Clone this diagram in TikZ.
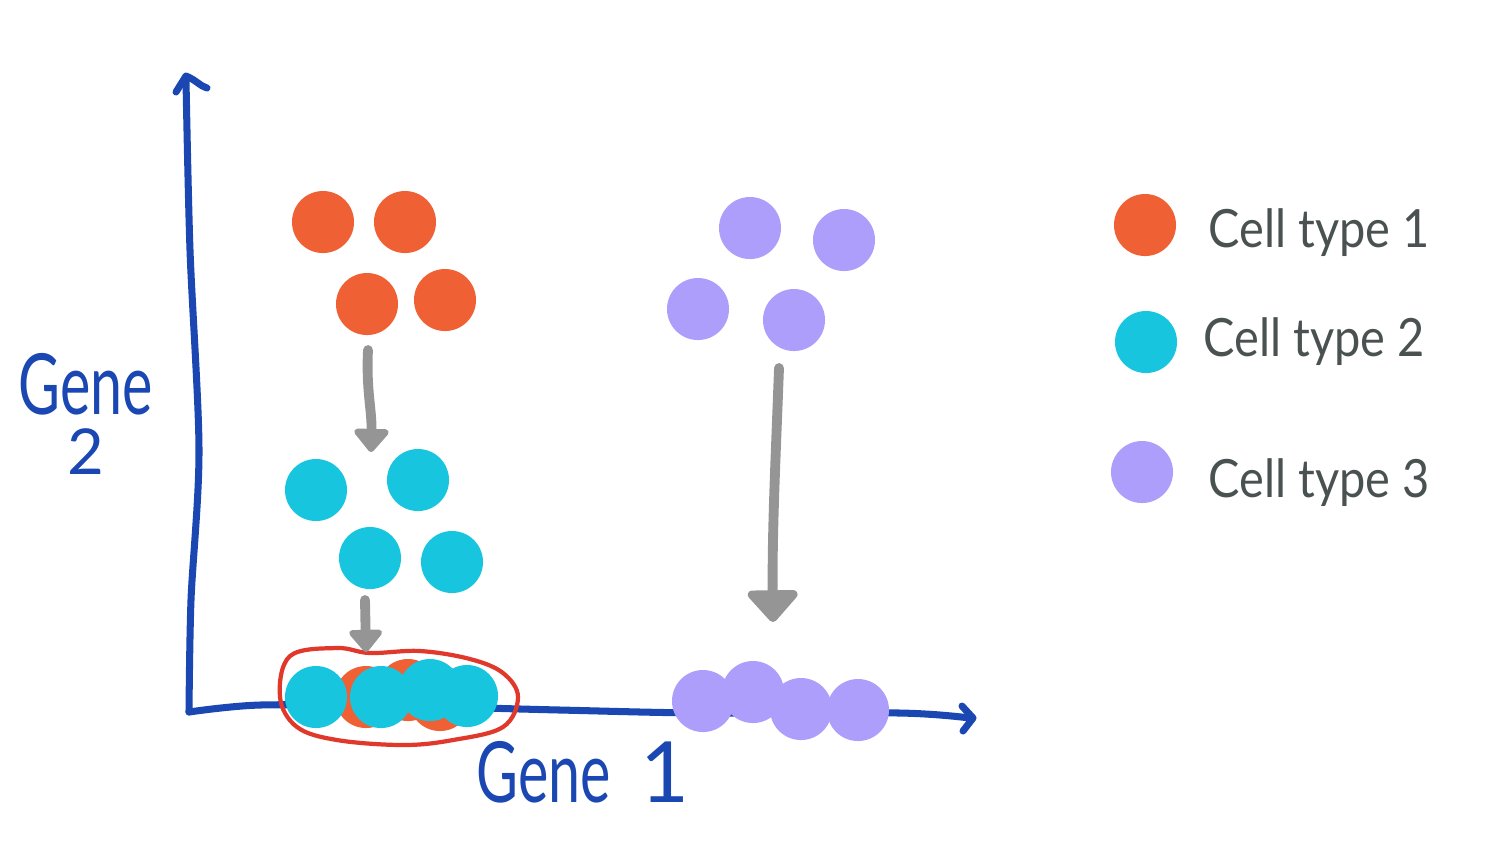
\documentclass[tikz,border=0pt]{standalone}
\usepackage{fontspec}
\usepackage{graphicx}
\setmainfont{Lato}
\usetikzlibrary{arrows.meta}
\definecolor{corange}{HTML}{F06035}
\definecolor{ccyan}{HTML}{17C6DE}
\definecolor{cpurple}{HTML}{AE9EFB}
\definecolor{cblue}{HTML}{1A47B2}
\definecolor{cred}{HTML}{E0392C}
\definecolor{cgray}{HTML}{959595}
\definecolor{ctext}{HTML}{4A5151}
\tikzset{
  cell/.style={circle, inner sep=0pt, minimum size=0.62cm},
  ct1/.style={cell, fill=corange},
  ct2/.style={cell, fill=ccyan},
  ct3/.style={cell, fill=cpurple},
  axis/.style={draw=cblue, line width=2pt, line cap=round, line join=round},
  move/.style={draw=cgray, line width=2.8pt, line cap=round},
  legtext/.style={text=ctext, font=\fontsize{15}{18}\selectfont, anchor=base west, inner sep=0pt},
  axlabel/.style={text=cblue, font=\fontsize{24}{26}\selectfont, inner sep=0pt, anchor=base}
}
\newcommand{\narrow}[2]{\scalebox{#1}[1]{#2}}
\begin{document}
\begin{tikzpicture}[x=0.01cm, y=-0.01cm]
\useasboundingbox (0,0) rectangle (1494,853);
% axes
\draw[axis] plot[smooth] coordinates {(186,80) (190,250) (199,450) (191,600) (189,712)};
\draw[axis] (176,92) -- (186,76) .. controls (196,80) and (200,86) .. (207,88);
\draw[axis] plot[smooth] coordinates {(189,712) (260,705) (400,706) (560,710) (700,713) (900,713) (970,718)};
\draw[axis] (962,706) -- (973,718) -- (963,731);
% top clusters
\node[ct1] (o1) at (323,222) {};
\node[ct1] (o2) at (405,222) {};
\node[ct1] (o3) at (367,304) {};
\node[ct1] (o4) at (445,300) {};
\node[ct2] (c1) at (316,490) {};
\node[ct2] (c2) at (418,480) {};
\node[ct2] (c3) at (370,558) {};
\node[ct2] (c4) at (452,562) {};
\node[ct3] (p1) at (750,228) {};
\node[ct3] (p2) at (844,240) {};
\node[ct3] (p3) at (698,309) {};
\node[ct3] (p4) at (794,320) {};
% bottom clusters
\node[ct1] (bo1) at (366,697) {};
\node[ct1] (bo2) at (408,690) {};
\node[ct1] (bo3) at (440,700) {};
\node[ct2] (bc1) at (316,697) {};
\node[ct2] (bc2) at (381,697) {};
\node[ct2] (bc3) at (430,690) {};
\node[ct2] (bc4) at (467,696) {};
\node[ct3] (bp1) at (703,701) {};
\node[ct3] (bp2) at (753,692) {};
\node[ct3] (bp3) at (801,709) {};
\node[ct3] (bp4) at (858,710) {};
% red outline
\draw[cred, line width=1.2pt] plot[smooth cycle, tension=0.6] coordinates {(280,697) (290,656) (337,648) (370,653) (420,651) (470,659) (503,673) (518,697) (503,727) (453,740) (403,745) (337,740) (297,727)};
% gray arrows
\coordinate (a1s) at (368,350);
\coordinate (a1e) at (371,452);
\coordinate (a2s) at (365,600);
\coordinate (a2e) at (366,652);
\coordinate (a3s) at (779,368);
\coordinate (a3e) at (773,622);
\draw[move, -{Triangle[width=0.4cm,length=0.25cm,round]}] (a1s) .. controls (366,390) and (372,410) .. (a1e);
\draw[move, -{Triangle[width=0.38cm,length=0.24cm,round]}] (a2s) -- (a2e);
\draw[move, -{Triangle[width=0.58cm,length=0.34cm,round]}] (a3s) .. controls (776,450) and (772,530) .. (a3e);
% labels
\node[text=cblue, inner sep=0pt, align=center, font=\fontsize{24}{17}\selectfont] (g2) at (86,414) {\narrow{0.68}{Gene}\\{\fontsize{18}{17}\selectfont 2}};
\node[axlabel] (g1) at (583,802) {\narrow{0.68}{Gene}\hspace{0.3cm}1};
% legend
\node[ct1] (l1) at (1145,225) {};
\node[ct2] (l2) at (1146,342) {};
\node[ct3] (l3) at (1142,472) {};
\node[legtext] (t1) at (1208,247) {\narrow{0.89}{Cell type 1}};
\node[legtext] (t2) at (1203,356) {\narrow{0.89}{Cell type 2}};
\node[legtext] (t3) at (1208,497) {\narrow{0.89}{Cell type 3}};
\end{tikzpicture}
\end{document}
